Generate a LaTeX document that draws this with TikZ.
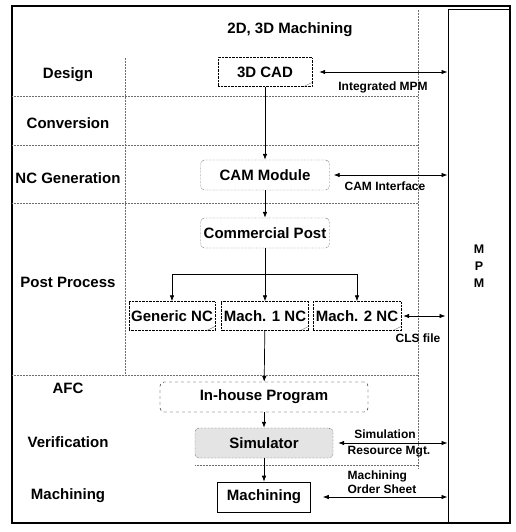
\documentclass[tikz,border=0pt]{standalone}
\usepackage{fontspec}
\setmainfont{Liberation Sans}
\usetikzlibrary{positioning, arrows.meta, calc}
\definecolor{gridgray}{RGB}{110,110,110}
\definecolor{simgray}{RGB}{228,228,228}

\tikzset{
  stage/.style={font=\fontsize{15}{17}\selectfont\bfseries},
  note/.style={font=\fontsize{12}{13.5}\selectfont\bfseries, inner sep=1pt},
  procbox/.style={draw, densely dotted, rounded corners=4pt, stage, inner sep=2pt, minimum height=30pt},
  docbox/.style={draw, densely dotted, stage, inner sep=2pt, minimum height=29pt,
    path picture={\draw[solid, gridgray] ([xshift=-8pt]path picture bounding box.south east) -- ([yshift=4pt]path picture bounding box.south east);}},
  sepline/.style={densely dotted, gridgray, line width=0.5pt},
  flow/.style={-{Latex[length=6pt, width=4.5pt]}, line width=0.7pt},
  link/.style={{Latex[length=6pt, width=4.5pt]}-{Latex[length=6pt, width=4.5pt]}, line width=0.7pt},
}

\begin{document}
\begin{tikzpicture}[x=1pt, y=-1pt]
    \useasboundingbox (0,0) rectangle (515,532);
    % Frame and grid
    \draw[line width=1.2pt] (12,6) rectangle (510,523);
    \draw[sepline] (12,96) -- (418,96);
    \draw[sepline] (12,145) -- (418,145);
    \draw[sepline] (12,203) -- (418,203);
    \draw[sepline] (12,375) -- (418,375);
    \draw[sepline] (195,465) -- (418,465);
    \draw[sepline] (125,58) -- (125,375);
    \draw[sepline] (418,10) -- (418,468);
    % MPM column
    \node[draw, line width=1pt, minimum width=62pt, minimum height=513pt, inner sep=0pt,
      align=center, font=\fontsize{12.5}{17}\selectfont\bfseries] (mpm) at (479,266.5) {M\\P\\M};
    % Title
    \node[stage] (title) at (290,30) {2D, 3D Machining};
    % Stages
    \foreach \y/\n/\t in {75/design/Design, 123/conv/Conversion, 178/ncgen/NC Generation,
      282/post/Post Process, 388/afc/AFC, 442/verif/Verification, 496/mach/Machining}{
      \node[stage] (lbl-\n) at (68,\y) {\t};
    }
    % Process boxes
    \node[docbox, minimum width=94pt] (cad) at (265,72) {3D CAD};
    \node[procbox, minimum width=129pt] (cam) at (265,175) {CAM Module};
    \node[procbox, minimum width=129pt] (compost) at (265,233) {Commercial Post};
    \node[docbox, minimum width=83pt] (generic) at (172,316) {Generic NC};
    \node[docbox, minimum width=87pt] (mach1) at (265,316) {Mach. 1 NC};
    \node[docbox, minimum width=88pt] (mach2) at (357,316) {Mach. 2 NC};
    \node[procbox, dashed, minimum width=208pt] (inhouse) at (264,397) {In-house Program};
    \node[procbox, fill=simgray, minimum width=138pt] (sim) at (264,443) {Simulator};
    \node[draw, stage, line width=0.6pt, minimum width=93pt, minimum height=30pt] (machining) at (264,497) {Machining};
    % Flow
    \coordinate (split) at (265,274);
    \draw[flow] (cad) -- (cam);
    \draw[flow] (cam) -- (compost);
    \draw[flow] (compost) -- (mach1);
    \draw[line width=0.7pt] (split -| generic.north) -- (split -| mach2.north);
    \draw[flow] (split -| generic.north) -- (generic.north);
    \draw[flow] (split -| mach2.north) -- (mach2.north);
    \draw[flow] (mach1) -- (inhouse);
    \draw[flow] (inhouse) -- (sim);
    \draw[flow] (sim) -- (machining);
    % Links to MPM
    \draw[link, shorten <=7pt] (cad.east) -- (cad.east -| mpm.west);
    \draw[link, shorten <=4pt] (cam.east) -- (cam.east -| mpm.west);
    \draw[link, shorten <=2pt, shorten >=2pt] (mach2.east) -- (mach2.east -| mpm.west);
    \draw[link, shorten <=5pt] (sim.east) -- (sim.east -| mpm.west);
    \draw[link, shorten <=12pt] (machining.east) -- (machining.east -| mpm.west);
    \node[note] (n-cad) at (383,87) {Integrated MPM};
    \node[note] (n-cam) at (385,186) {CAM Interface};
    \node[note] (n-cls) at (418,338) {CLS file};
    \node[note] (n-sim1) at (385,434) {Simulation};
    \node[note] (n-sim2) at (389,452) {Resource Mgt.};
    \node[note, align=left] (n-mach) at (382,482) {Machining\\Order Sheet};
\end{tikzpicture}
\end{document}
